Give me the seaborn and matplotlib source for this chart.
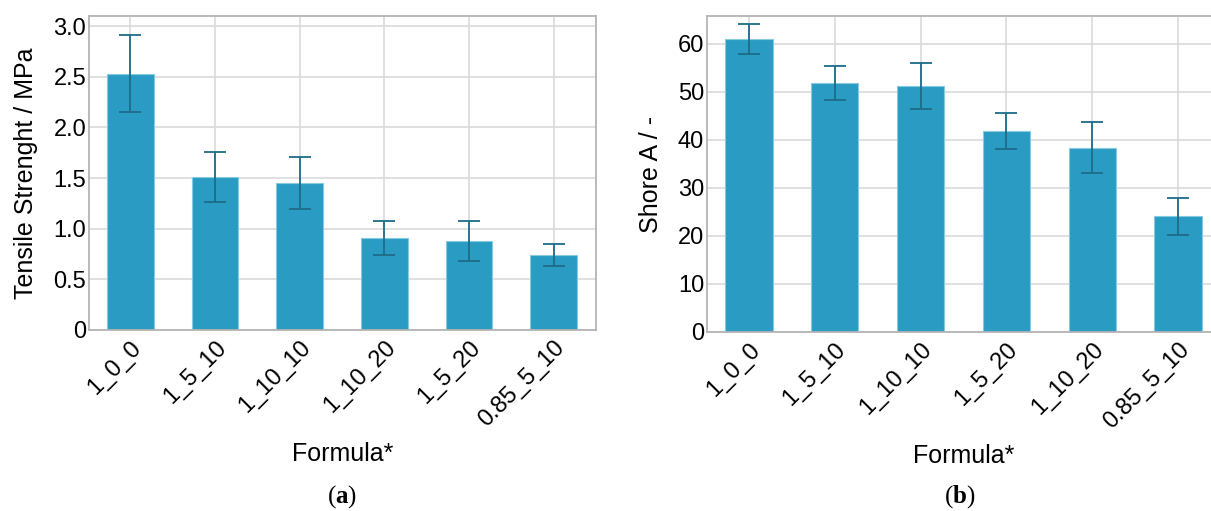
import numpy as np
import pandas as pd
import seaborn as sns
import matplotlib.pyplot as plt
from matplotlib.ticker import FuncFormatter

# panel (a): tensile strength
tensile_formulas = ['1_0_0', '1_5_10', '1_10_10', '1_10_20', '1_5_20', '0.85_5_10']
tensile_mean = [2.53, 1.51, 1.45, 0.91, 0.88, 0.74]
tensile_err = [0.38, 0.25, 0.26, 0.17, 0.20, 0.11]

# panel (b): shore A hardness
shore_formulas = ['1_0_0', '1_5_10', '1_10_10', '1_5_20', '1_10_20', '0.85_5_10']
shore_mean = [61.0, 51.8, 51.2, 41.9, 38.4, 24.1]
shore_err = [3.2, 3.5, 4.8, 3.8, 5.3, 3.8]

BAR_COLOR = '#2a9cc4'
EDGE_COLOR = '#86c9e0'
ERR_COLOR = '#1d6c88'
GRID_COLOR = '#dadada'
SPINE_COLOR = '#b4b4b4'
TICK_SIZE = 17
LABEL_SIZE = 18

sns.set_style('white')
plt.rcParams['font.family'] = ['Liberation Sans', 'DejaVu Sans']
plt.rcParams['text.color'] = 'black'
plt.rcParams['axes.labelcolor'] = 'black'
plt.rcParams['xtick.color'] = 'black'
plt.rcParams['ytick.color'] = 'black'
plt.rcParams['mathtext.fontset'] = 'custom'
plt.rcParams['mathtext.rm'] = 'Liberation Serif'
plt.rcParams['mathtext.bf'] = 'Liberation Serif:bold'


def zero_formatter(v, pos):
    if abs(v) < 1e-9:
        return '0'
    return f'{v:.1f}'


def draw_panel(ax, formulas, means, errs, ylabel, ylim, yticks, fmt=None):
    df = pd.DataFrame({'Formula': formulas, 'value': means})
    sns.barplot(data=df, x='Formula', y='value', order=formulas,
                color=BAR_COLOR, saturation=1, width=0.55,
                edgecolor=EDGE_COLOR, linewidth=0.8,
                errorbar=None, ax=ax, zorder=2)
    pos = np.arange(len(formulas))
    ax.errorbar(pos, means, yerr=errs, fmt='none', ecolor=ERR_COLOR,
                elinewidth=1.3, capsize=8, capthick=1.3, zorder=3)

    ax.set_xlim(-0.49, len(formulas) - 0.5)
    ax.set_ylim(*ylim)
    ax.set_yticks(yticks)
    if fmt is not None:
        ax.yaxis.set_major_formatter(FuncFormatter(fmt))

    ax.grid(True, color=GRID_COLOR, linewidth=1.2, zorder=0)
    ax.set_axisbelow(True)
    for sp in ax.spines.values():
        sp.set_color(SPINE_COLOR)
        sp.set_linewidth(1.3)

    ax.tick_params(axis='y', direction='in', length=4, color=SPINE_COLOR,
                   labelsize=TICK_SIZE, pad=2)
    ax.tick_params(axis='x', length=0, labelsize=TICK_SIZE, pad=5)
    plt.setp(ax.get_xticklabels(), rotation=45, ha='right',
             rotation_mode='anchor')

    ax.set_ylabel(ylabel, fontsize=LABEL_SIZE, labelpad=11)
    ax.set_xlabel('Formula*', fontsize=LABEL_SIZE, labelpad=8)


fig = plt.figure(figsize=(12.11, 5.11), dpi=100)
ax_a = fig.add_axes([89 / 1211, 1 - 330 / 511, 507 / 1211, 314 / 511])
ax_b = fig.add_axes([707 / 1211, 1 - 332 / 511, 514 / 1211, 316 / 511])

draw_panel(ax_a, tensile_formulas, tensile_mean, tensile_err,
           'Tensile Strenght / MPa', (0, 3.1),
           [0, 0.5, 1.0, 1.5, 2.0, 2.5, 3.0], fmt=zero_formatter)
draw_panel(ax_b, shore_formulas, shore_mean, shore_err,
           'Shore A / -', (0, 65.8), [0, 10, 20, 30, 40, 50, 60])

fig.text(342 / 1211, 1 - 497 / 511, r'$\mathrm{(}\mathbf{a}\mathrm{)}$',
         ha='center', va='center', fontsize=18)
fig.text(960 / 1211, 1 - 497 / 511, r'$\mathrm{(}\mathbf{b}\mathrm{)}$',
         ha='center', va='center', fontsize=18)

fig.savefig('out.png', dpi=100)
